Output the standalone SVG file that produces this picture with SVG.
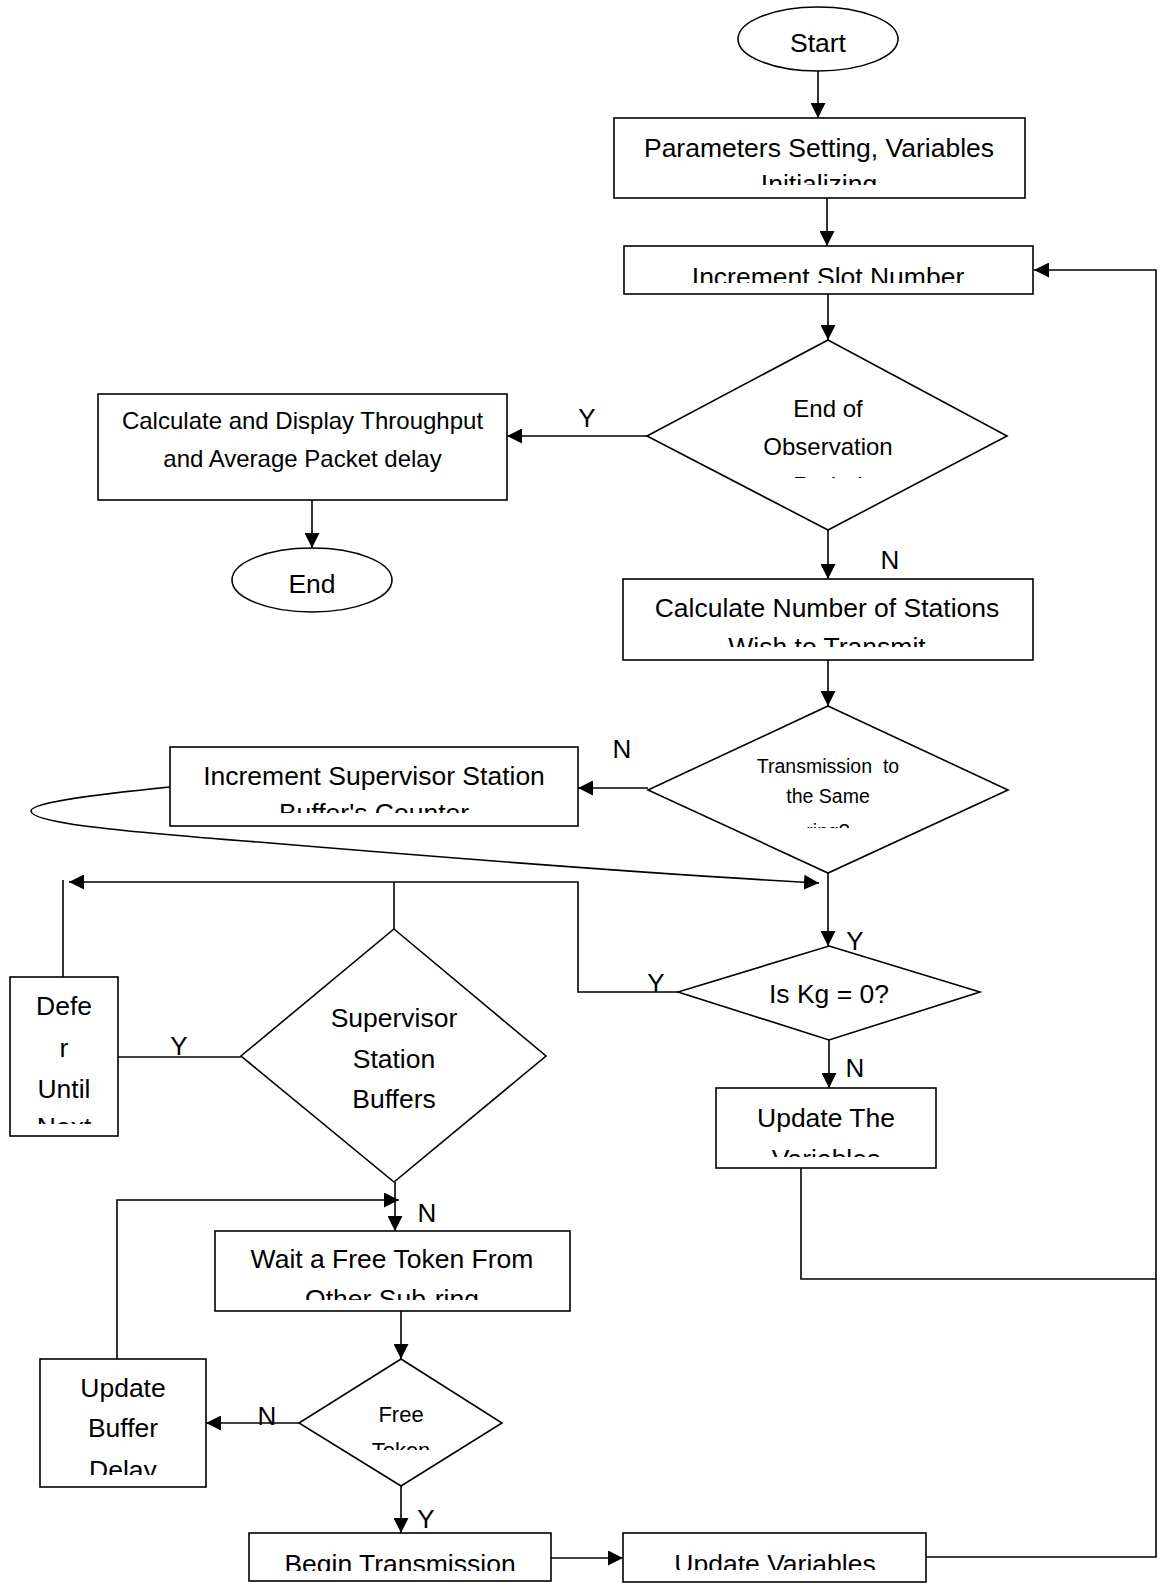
<svg xmlns="http://www.w3.org/2000/svg" width="1161" height="1589" viewBox="0 0 1161 1589">
<style>
.box{fill:#fff;stroke:#000;stroke-width:1.6}
.conn{fill:none;stroke:#000;stroke-width:1.6}
.arr{marker-end:url(#ah)}
text{font-family:"Liberation Sans",Arial,sans-serif;fill:#000;text-anchor:middle}
.t{font-size:26.5px}
.m{font-size:24px}
.s{font-size:19.5px}
.f{font-size:22px}
.lbl{font-size:26px}
</style>
<defs>
<marker id="ah" viewBox="0 0 15 15" refX="15" refY="7.5" markerWidth="15" markerHeight="15" markerUnits="userSpaceOnUse" orient="auto">
<path d="M0,0 L15,7.5 L0,15 z" fill="#000"/>
</marker>
<clipPath id="cp-p1"><rect x="614" y="118" width="411" height="67"/></clipPath>
<clipPath id="cp-slot"><rect x="624" y="246" width="409" height="37"/></clipPath>
<clipPath id="cp-d1"><rect x="640" y="340" width="380" height="138"/></clipPath>
<clipPath id="cp-calcn"><rect x="623" y="579" width="410" height="68"/></clipPath>
<clipPath id="cp-d2"><rect x="640" y="706" width="380" height="122"/></clipPath>
<clipPath id="cp-incsup"><rect x="170" y="747" width="408" height="66"/></clipPath>
<clipPath id="cp-defer"><rect x="10" y="977" width="108" height="147"/></clipPath>
<clipPath id="cp-wait"><rect x="215" y="1231" width="355" height="69"/></clipPath>
<clipPath id="cp-free"><rect x="299" y="1359" width="203" height="91"/></clipPath>
<clipPath id="cp-upbuf"><rect x="40" y="1359" width="166" height="116"/></clipPath>
<clipPath id="cp-begin"><rect x="249" y="1533" width="302" height="38"/></clipPath>
<clipPath id="cp-upvars"><rect x="623" y="1533" width="303" height="37"/></clipPath>
<clipPath id="cp-upthe"><rect x="716" y="1088" width="220" height="69"/></clipPath>
</defs>

<g id="connectors">
<line class="conn arr" x1="818" y1="71" x2="818" y2="118"/>
<line class="conn arr" x1="827" y1="198" x2="827" y2="246"/>
<line class="conn arr" x1="828" y1="294" x2="828" y2="340"/>
<line class="conn arr" x1="647" y1="436" x2="507" y2="436"/>
<line class="conn arr" x1="312" y1="500" x2="312" y2="548"/>
<line class="conn arr" x1="828" y1="530" x2="828" y2="579"/>
<line class="conn arr" x1="828" y1="660" x2="828" y2="706"/>
<line class="conn arr" x1="648" y1="788" x2="578" y2="788"/>
<path class="conn arr" d="M170,787 C100,794 31,802 31,811 C31,822 100,830 270,843 C450,858 650,874 819,883"/>
<line class="conn arr" x1="828" y1="873" x2="828" y2="946"/>
<polyline class="conn arr" points="678,992 578,992 578,882 69,882"/>
<line class="conn" x1="63" y1="880" x2="63" y2="977"/>
<line class="conn" x1="394" y1="882" x2="394" y2="929"/>
<line class="conn" x1="241" y1="1057" x2="118" y2="1057"/>
<line class="conn arr" x1="395" y1="1182" x2="395" y2="1231"/>
<polyline class="conn arr" points="117,1359 117,1200 399,1200"/>
<line class="conn arr" x1="401" y1="1311" x2="401" y2="1359"/>
<line class="conn arr" x1="299" y1="1423" x2="206" y2="1423"/>
<line class="conn arr" x1="401" y1="1486" x2="401" y2="1533"/>
<line class="conn arr" x1="551" y1="1558" x2="623" y2="1558"/>
<line class="conn arr" x1="829" y1="1040" x2="829" y2="1088"/>
<polyline class="conn" points="801,1168 801,1279 1156,1279"/>
<polyline class="conn arr" points="926,1557 1156,1557 1156,270 1034,270"/>
<text class="lbl" x="587" y="427">Y</text>
<text class="lbl" x="890" y="569">N</text>
<text class="lbl" x="622" y="758">N</text>
<text class="lbl" x="855" y="950">Y</text>
<text class="lbl" x="656" y="992">Y</text>
<text class="lbl" x="179" y="1055">Y</text>
<text class="lbl" x="855" y="1077">N</text>
<text class="lbl" x="427" y="1222">N</text>
<text class="lbl" x="267" y="1425">N</text>
<text class="lbl" x="426" y="1528">Y</text>
</g>

<g id="start">
<ellipse class="box" cx="818" cy="39" rx="80" ry="32"/>
<text class="t" x="818" y="52">Start</text>
</g>
<g id="params">
<rect class="box" x="614" y="118" width="411" height="80"/>
<g clip-path="url(#cp-p1)"><text class="t" x="819" y="157">Parameters Setting, Variables</text><text class="t" x="819" y="193">Initializing</text></g>
</g>
<g id="slot">
<rect class="box" x="624" y="246" width="409" height="48"/>
<g clip-path="url(#cp-slot)"><text class="t" x="828" y="286">Increment Slot Number</text></g>
</g>
<g id="endobs">
<polygon class="box" points="828,340 1007,436 828,530 647,436"/>
<g clip-path="url(#cp-d1)"><text class="m" x="828" y="417">End of</text><text class="m" x="828" y="455">Observation</text><text class="m" x="828" y="494">Period</text></g>
</g>
<g id="calcthr">
<rect class="box" x="98" y="394" width="409" height="106"/>
<text class="m" x="302.5" y="429">Calculate and Display Throughput</text>
<text class="m" x="302.5" y="467">and Average Packet delay</text>
</g>
<g id="end">
<ellipse class="box" cx="312" cy="580" rx="80" ry="32"/>
<text class="t" x="312" y="593">End</text>
</g>
<g id="calcnum">
<rect class="box" x="623" y="579" width="410" height="81"/>
<g clip-path="url(#cp-calcn)"><text class="t" x="827" y="617">Calculate Number of Stations</text><text class="t" x="827" y="656">Wish to Transmit</text></g>
</g>
<g id="samering">
<polygon class="box" points="828,706 1008,790 828,873 648,790"/>
<g clip-path="url(#cp-d2)"><text class="s" x="828" y="773" xml:space="preserve">Transmission  to</text><text class="s" x="828" y="803">the Same</text><text class="s" x="828" y="838">ring?</text></g>
</g>
<g id="incsup">
<rect class="box" x="170" y="747" width="408" height="79"/>
<g clip-path="url(#cp-incsup)"><text class="t" x="374" y="785">Increment Supervisor Station</text><text class="t" x="374" y="822">Buffer's Counter</text></g>
</g>
<g id="iskg">
<polygon class="box" points="829,946 980,992 829,1040 678,992"/>
<text class="t" x="829" y="1003">Is Kg = 0?</text>
</g>
<g id="supbuf">
<polygon class="box" points="394,929 546,1056 394,1182 241,1056"/>
<text class="t" x="394" y="1027">Supervisor</text>
<text class="t" x="394" y="1068">Station</text>
<text class="t" x="394" y="1108">Buffers</text>
</g>
<g id="defer">
<rect class="box" x="10" y="977" width="108" height="159"/>
<g clip-path="url(#cp-defer)"><text class="t" x="64" y="1015">Defe</text><text class="t" x="64" y="1057">r</text><text class="t" x="64" y="1098">Until</text><text class="t" x="64" y="1136">Next</text></g>
</g>
<g id="updthe">
<rect class="box" x="716" y="1088" width="220" height="80"/>
<g clip-path="url(#cp-upthe)"><text class="t" x="826" y="1127">Update The</text><text class="t" x="826" y="1168">Variables</text></g>
</g>
<g id="wait">
<rect class="box" x="215" y="1231" width="355" height="80"/>
<g clip-path="url(#cp-wait)"><text class="t" x="392" y="1268">Wait a Free Token From</text><text class="t" x="392" y="1308">Other Sub-ring</text></g>
</g>
<g id="freetoken">
<polygon class="box" points="401,1359 502,1423 401,1486 299,1423"/>
<g clip-path="url(#cp-free)"><text class="f" x="401" y="1422">Free</text><text class="f" x="401" y="1458">Token</text></g>
</g>
<g id="updbuf">
<rect class="box" x="40" y="1359" width="166" height="128"/>
<g clip-path="url(#cp-upbuf)"><text class="t" x="123" y="1397">Update</text><text class="t" x="123" y="1437">Buffer</text><text class="t" x="123" y="1479">Delay</text></g>
</g>
<g id="begin">
<rect class="box" x="249" y="1533" width="302" height="48"/>
<g clip-path="url(#cp-begin)"><text class="t" x="400" y="1573">Begin Transmission</text></g>
</g>
<g id="updvars">
<rect class="box" x="623" y="1533" width="303" height="49"/>
<g clip-path="url(#cp-upvars)"><text class="t" x="775" y="1573">Update Variables</text></g>
</g>
</svg>
